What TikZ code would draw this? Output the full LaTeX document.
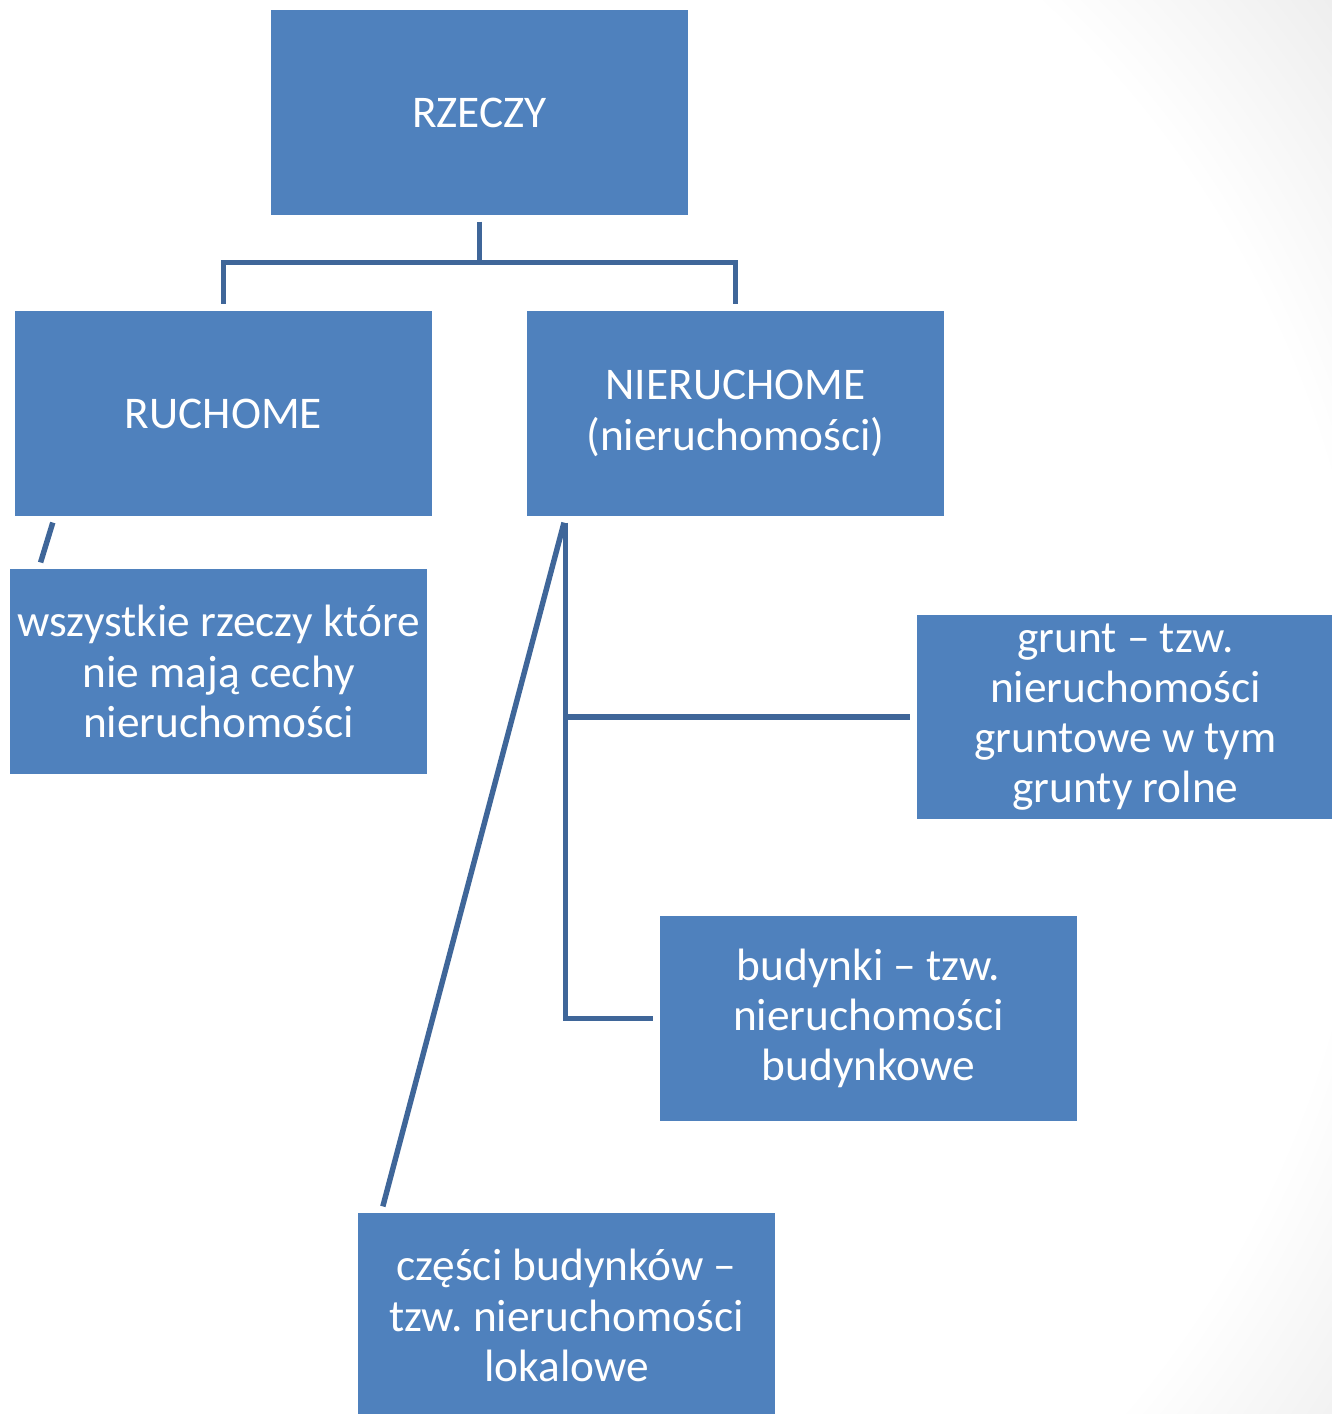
\documentclass[tikz,border=0pt]{standalone}
\usepackage{fontspec}
\setmainfont{Carlito}
\usepackage{tikz}
\usepackage{xcolor}
\frenchspacing

\definecolor{boxblue}{HTML}{4F81BD}
\definecolor{linkblue}{HTML}{3F6699}
\definecolor{bggray}{HTML}{E9E9E9}
\pgfdeclareradialshading{slidebg}{\pgfpoint{0bp}{0bp}}{color(0bp)=(white); color(19.5bp)=(white); color(25bp)=(bggray); color(50bp)=(bggray)}

\tikzset{
  box/.style={fill=boxblue, text=white, minimum width=8.34cm, minimum height=4.1cm,
    inner sep=0pt, align=center, font=\fontsize{25.8}{28.6}\selectfont},
  link/.style={draw=linkblue, line width=3.1pt, shorten <=0.13cm, shorten >=0.13cm}
}

\begin{document}
\begin{tikzpicture}[x=0.02cm, y=-0.02cm]
    \useasboundingbox (0,0) rectangle (1332,1414);
    % background
    \begin{scope}
      \clip (0,0) rectangle (1332,1414);
      \shade[shading=slidebg] (350,750) circle (1300);
    \end{scope}

    \node[box] (rzeczy) at (479.5,112.5) {RZECZY};
    \node[box] (ruch) at (223.5,413.5) {RUCHOME};
    \node[box] (nieruch) at (735.5,413.5) {NIERUCHOME\\(nieruchomości)};
    \node[box] (wszystkie) at (218.5,671.5) {wszystkie rzeczy które\\nie mają cechy\\nieruchomości};
    \node[box] (grunt) at (1125.5,717) {grunt – tzw.\\nieruchomości\\gruntowe w tym\\grunty rolne};
    \node[box] (budynki) at (868.5,1018.5) {budynki – tzw.\\nieruchomości\\budynkowe};
    \node[box] (czesci) at (566.5,1315.5) {części budynków –\\tzw. nieruchomości\\lokalowe};

    \draw[link] (rzeczy.south) -- ++(0,47) -| (ruch.north);
    \draw[link] (rzeczy.south) -- ++(0,47) -| (nieruch.north);
    \draw[link] ([xshift=0.8cm]ruch.south west) -- ([xshift=0.58cm]wszystkie.north west);
    \draw[link] ([xshift=0.78cm]nieruch.south west) |- (grunt.west);
    \draw[link] ([xshift=0.78cm]nieruch.south west) |- (budynki.west);
    \draw[link] ([xshift=0.78cm]nieruch.south west) -- ([xshift=0.47cm]czesci.north west);
  \end{tikzpicture}
\end{document}
